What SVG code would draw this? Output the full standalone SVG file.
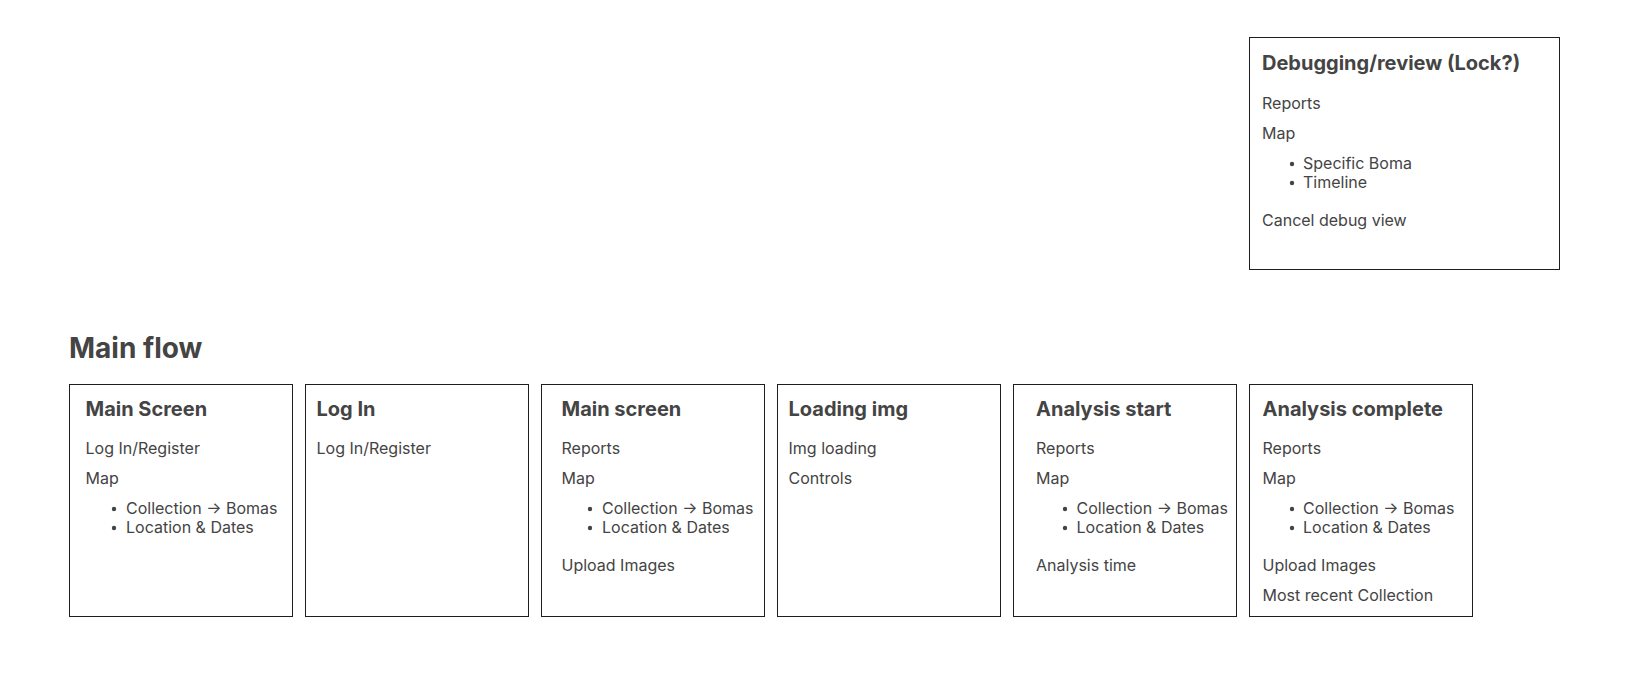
<svg xmlns="http://www.w3.org/2000/svg" width="1630" height="683" viewBox="0 0 1630 683">
<style>
.box{fill:#ffffff;stroke:#1e1e1e;stroke-width:1}
.t{font-family:Inter,"Noto Sans",sans-serif;font-size:20px;font-weight:700;fill:#444444}
.b{font-family:Inter,"Noto Sans",sans-serif;font-size:16px;font-weight:400;fill:#444444}
.h{font-family:Inter,"Noto Sans",sans-serif;font-size:28px;font-weight:700;fill:#444444}
.d{fill:#444444}
</style>
<rect width="1630" height="683" fill="#ffffff"/>
<g id="connectors"></g>
<text class="h" x="69" y="358">Main flow</text>
<g id="debug">
<rect class="box" x="1249.5" y="37.5" width="310" height="232"/>
<text class="t" x="1262" y="70">Debugging/review (Lock?)</text>
<text class="b" x="1262" y="109">Reports</text>
<text class="b" x="1262" y="139">Map</text>
<circle class="d" cx="1292" cy="164" r="2.2"/>
<text class="b" x="1303" y="169">Specific Boma</text>
<circle class="d" cx="1292" cy="183" r="2.2"/>
<text class="b" x="1303" y="188">Timeline</text>
<text class="b" x="1262" y="226">Cancel debug view</text>
</g>
<g id="main-screen-1">
<rect class="box" x="69.5" y="384.5" width="223" height="232"/>
<text class="t" x="85.5" y="415.5">Main Screen</text>
<text class="b" x="85.5" y="454">Log In/Register</text>
<text class="b" x="85.5" y="484">Map</text>
<circle class="d" cx="114" cy="509" r="2.2"/>
<text class="b" x="126" y="514">Collection → Bomas</text>
<circle class="d" cx="114" cy="528" r="2.2"/>
<text class="b" x="126" y="533">Location &amp; Dates</text>
</g>
<g id="log-in">
<rect class="box" x="305.5" y="384.5" width="223" height="232"/>
<text class="t" x="316.5" y="415.5">Log In</text>
<text class="b" x="316.5" y="454">Log In/Register</text>
</g>
<g id="main-screen-2">
<rect class="box" x="541.5" y="384.5" width="223" height="232"/>
<text class="t" x="561.5" y="415.5">Main screen</text>
<text class="b" x="561.5" y="454">Reports</text>
<text class="b" x="561.5" y="484">Map</text>
<circle class="d" cx="590" cy="509" r="2.2"/>
<text class="b" x="602" y="514">Collection → Bomas</text>
<circle class="d" cx="590" cy="528" r="2.2"/>
<text class="b" x="602" y="533">Location &amp; Dates</text>
<text class="b" x="561.5" y="571">Upload Images</text>
</g>
<g id="loading-img">
<rect class="box" x="777.5" y="384.5" width="223" height="232"/>
<text class="t" x="788.5" y="415.5">Loading img</text>
<text class="b" x="788.5" y="454">Img loading</text>
<text class="b" x="788.5" y="484">Controls</text>
</g>
<g id="analysis-start">
<rect class="box" x="1013.5" y="384.5" width="223" height="232"/>
<text class="t" x="1036" y="415.5">Analysis start</text>
<text class="b" x="1036" y="454">Reports</text>
<text class="b" x="1036" y="484">Map</text>
<circle class="d" cx="1065" cy="509" r="2.2"/>
<text class="b" x="1076.5" y="514">Collection → Bomas</text>
<circle class="d" cx="1065" cy="528" r="2.2"/>
<text class="b" x="1076.5" y="533">Location &amp; Dates</text>
<text class="b" x="1036" y="571">Analysis time</text>
</g>
<g id="analysis-complete">
<rect class="box" x="1249.5" y="384.5" width="223" height="232"/>
<text class="t" x="1262.5" y="415.5">Analysis complete</text>
<text class="b" x="1262.5" y="454">Reports</text>
<text class="b" x="1262.5" y="484">Map</text>
<circle class="d" cx="1292" cy="509" r="2.2"/>
<text class="b" x="1303" y="514">Collection → Bomas</text>
<circle class="d" cx="1292" cy="528" r="2.2"/>
<text class="b" x="1303" y="533">Location &amp; Dates</text>
<text class="b" x="1262.5" y="571">Upload Images</text>
<text class="b" x="1262.5" y="601">Most recent Collection</text>
</g>
</svg>
